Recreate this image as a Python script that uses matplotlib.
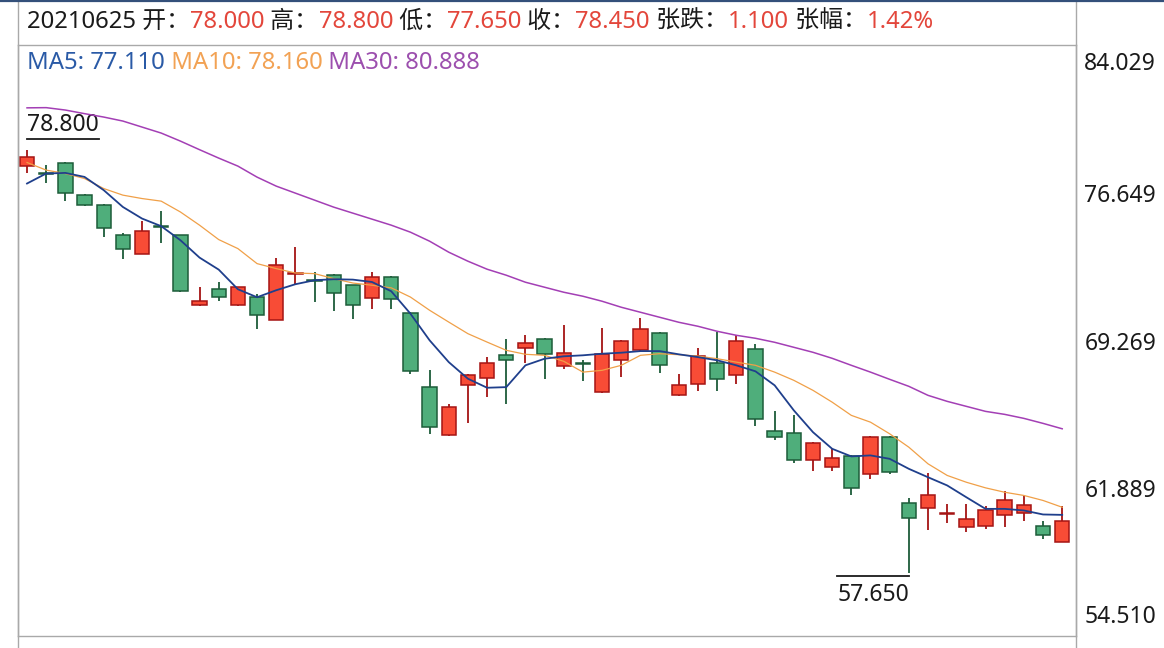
import matplotlib
matplotlib.use('Agg')
import matplotlib.pyplot as plt
from matplotlib.patches import Rectangle
from matplotlib.lines import Line2D
from matplotlib.transforms import ScaledTranslation

plt.rcParams['font.family'] = ['Noto Sans', 'Noto Sans CJK SC']

# ---------------- data ----------------
opens = [78.00, 77.62, 78.14, 76.56, 76.06, 74.53, 73.61, 75.00, 74.53, 71.02,
         71.83, 71.02, 71.44, 70.31, 72.60, 72.30, 72.56, 72.03, 71.41, 72.44,
         70.64, 66.94, 64.53, 67.03, 67.41, 68.56, 68.89, 69.36, 67.99, 68.13,
         66.69, 68.31, 68.78, 69.64, 66.53, 67.11, 68.14, 67.53, 68.86, 64.74,
         64.64, 63.31, 62.94, 63.48, 62.61, 64.44, 61.14, 60.91, 60.59, 59.94,
         59.98, 60.53, 60.66, 59.98, 59.23]
highs = [78.80, 78.03, 78.18, 76.60, 76.10, 74.64, 75.24, 75.73, 74.56, 71.94,
         72.19, 71.96, 71.61, 73.41, 73.94, 72.69, 72.60, 72.05, 72.69, 72.50,
         70.70, 67.81, 66.11, 67.60, 68.44, 69.36, 69.53, 69.40, 70.03, 68.31,
         69.91, 69.28, 70.41, 69.70, 67.61, 68.91, 69.69, 69.53, 69.11, 65.73,
         65.53, 64.20, 63.83, 63.55, 64.50, 64.50, 61.41, 62.64, 61.08, 61.08,
         60.98, 61.74, 61.48, 60.23, 60.98]
lows = [77.65, 77.14, 76.24, 76.00, 74.44, 73.36, 73.58, 74.16, 71.70, 71.00,
        71.24, 71.00, 69.86, 70.29, 72.11, 71.19, 70.74, 70.36, 70.86, 70.86,
        67.58, 64.58, 64.50, 65.14, 66.44, 66.08, 68.14, 67.36, 67.86, 67.24,
        66.67, 67.44, 68.76, 67.64, 66.51, 66.74, 66.74, 67.08, 64.98, 64.28,
        63.14, 62.74, 62.74, 61.56, 62.36, 62.58, 57.65, 59.78, 60.16, 59.69,
        59.86, 59.94, 60.24, 59.36, 59.21]
closes = [78.45, 77.60, 76.64, 76.03, 74.91, 73.83, 74.74, 74.96, 71.73, 71.24,
          71.44, 71.94, 70.52, 73.06, 72.64, 72.25, 71.64, 71.03, 72.44, 71.33,
          67.73, 64.94, 65.94, 67.53, 68.16, 68.31, 69.16, 68.61, 68.64, 68.09,
          68.61, 69.24, 69.83, 68.03, 67.03, 68.48, 67.33, 69.24, 65.33, 64.44,
          63.31, 64.14, 63.41, 61.91, 64.44, 62.72, 60.41, 61.53, 60.63, 60.36,
          60.78, 61.28, 61.06, 59.53, 60.23]
ma5 = [77.11, 77.61, 77.64, 77.44, 76.78, 75.94, 75.36, 74.98, 74.28, 73.41,
       72.81, 71.83, 71.43, 71.78, 72.08, 72.28, 72.33, 72.31, 72.19, 71.73,
       70.61, 69.28, 68.19, 67.36, 66.91, 66.94, 68.03, 68.36, 68.48, 68.53,
       68.61, 68.66, 68.74, 68.74, 68.58, 68.44, 68.28, 68.03, 67.73, 67.03,
       65.78, 64.69, 63.86, 63.48, 63.53, 63.36, 62.86, 62.44, 62.03, 61.44,
       60.86, 60.86, 60.78, 60.58, 60.56]
ma10 = [78.16, 77.78, 77.61, 77.36, 76.86, 76.53, 76.36, 76.23, 75.69, 75.03,
        74.31, 73.86, 73.11, 72.86, 72.64, 72.61, 72.36, 72.14, 72.03, 71.90,
        71.44, 70.78, 70.19, 69.61, 69.19, 68.78, 68.58, 68.53, 68.23, 67.69,
        67.78, 68.03, 68.53, 68.61, 68.56, 68.49, 68.36, 68.19, 68.03, 67.69,
        67.28, 66.78, 66.19, 65.53, 65.19, 64.61, 63.94, 63.11, 62.53, 62.19,
        61.91, 61.69, 61.53, 61.28, 60.94]
ma30 = [80.89, 80.90, 80.78, 80.60, 80.43, 80.23, 79.93, 79.63, 79.23, 78.80,
        78.38, 77.98, 77.43, 76.98, 76.63, 76.28, 75.93, 75.63, 75.33, 75.03,
        74.68, 74.23, 73.68, 73.23, 72.83, 72.53, 72.18, 71.93, 71.68, 71.48,
        71.23, 70.93, 70.68, 70.43, 70.18, 69.98, 69.73, 69.53, 69.38, 69.18,
        68.93, 68.68, 68.38, 68.03, 67.69, 67.33, 66.98, 66.53, 66.23, 65.98,
        65.73, 65.58, 65.38, 65.13, 64.86]
ytick_vals = [54.510, 61.889, 69.269, 76.649, 84.029]
ytick_labels = ['54.510', '61.889', '69.269', '76.649', '84.029']
header_items = [('20210625 开：', 'k'), ('78.000', 'r'), (' 高：', 'k'), ('78.800', 'r'),
                (' 低：', 'k'), ('77.650', 'r'), (' 收：', 'k'), ('78.450', 'r'),
                (' 张跌：', 'k'), ('1.100', 'r'), (' 张幅：', 'k'), ('1.42%', 'r')]
ma_items = [('MA5: 77.110', 'ma5'), (' MA10: 78.160', 'ma10'), (' MA30: 80.888', 'ma30')]

# ---------------- style ----------------
W, H = 1164, 648
C_UP_FILL, C_UP_EDGE = '#f84c36', '#a51414'
C_DN_FILL, C_DN_EDGE = '#4fae7b', '#1d5c39'
COL = {'k': '#1a1a1a', 'r': '#e3463b', 'ma5': '#2a5aa6', 'ma10': '#f2a254', 'ma30': '#9c4fae'}
LINE_MA5, LINE_MA10, LINE_MA30 = '#1f3f8c', '#f0a048', '#a33fb5'
GRID_C = '#a9a9a9'
FS = 16.5
FS_HEAD = 17.2

fig = plt.figure(figsize=(W / 100, H / 100), dpi=100, facecolor='white')
ax = fig.add_axes([18 / W, 12 / H, (1076 - 18) / W, (636 - 45) / H])
ax.set_facecolor('white')

n = len(opens)
bw = 0.75
for i in range(n):
    o, h, l, c = opens[i], highs[i], lows[i], closes[i]
    up = c >= o
    fill = C_UP_FILL if up else C_DN_FILL
    edge = C_UP_EDGE if up else C_DN_EDGE
    ax.add_line(Line2D([i, i], [l, h], color=edge, lw=1.3, zorder=2, solid_capstyle='butt'))
    bottom = min(o, c)
    height = max(abs(c - o), 0.02)
    ax.add_patch(Rectangle((i - bw / 2, bottom), bw, height, facecolor=fill,
                           edgecolor=edge, lw=1.1, zorder=3))

xs = list(range(n))
ax.plot(xs, ma30, color=LINE_MA30, lw=1.1, zorder=4)
ax.plot(xs, ma10, color=LINE_MA10, lw=0.9, zorder=4)
ax.plot(xs, ma5, color=LINE_MA5, lw=1.3, zorder=5)

ax.set_xlim(-0.47, 54.72)
ax.set_ylim(ytick_vals[0], ytick_vals[-1])
ax.set_xticks([])
ax.yaxis.tick_right()
ax.set_yticks(ytick_vals)
ax.set_yticklabels(ytick_labels)
ax.tick_params(axis='y', length=0, pad=6, labelsize=FS, labelcolor='#1a1a1a')
for sp in ax.spines.values():
    sp.set_color(GRID_C)
    sp.set_linewidth(1.0)

mticks = ax.yaxis.get_major_ticks()
mticks[0].label2.set_va('bottom')
mticks[0].label2.set_transform(mticks[0].label2.get_transform() +
                               ScaledTranslation(0, 0.07, fig.dpi_scale_trans))
mticks[-1].label2.set_va('top')
mticks[-1].label2.set_transform(mticks[-1].label2.get_transform() +
                                ScaledTranslation(0, -0.07, fig.dpi_scale_trans))

# frame lines outside the axes
fig.add_artist(Line2D([18 / W, 18 / W], [0, 1], color=GRID_C, lw=1.0))
fig.add_artist(Line2D([1076 / W, 1076 / W], [0, 1], color=GRID_C, lw=1.0))
fig.add_artist(Line2D([0, 1], [1 - 1 / H, 1 - 1 / H], color='#34507a', lw=1.6))

renderer = fig.canvas.get_renderer()


def put_row(items, x0, ybase, size):
    x = x0
    for s, c in items:
        t = fig.text(x / W, 1 - ybase / H, s, color=COL[c], fontsize=size,
                     ha='left', va='baseline')
        bb = t.get_window_extent(renderer=renderer)
        x = bb.x1


put_row(header_items, 27, 28, FS_HEAD)
put_row(ma_items, 27, 69, FS_HEAD)

# max / min annotations
imax = max(range(n), key=lambda k: highs[k])
imin = min(range(n), key=lambda k: lows[k])
px_per_unit_x = 1058 / (54.72 + 0.47)
off_up = ScaledTranslation(0, 0.105, fig.dpi_scale_trans)
t1 = ax.text(imax, highs[imax], f'{highs[imax]:.3f}', fontsize=FS, color='#1a1a1a',
             ha='left', va='bottom',
             transform=ax.transData + ScaledTranslation(0, 0.13, fig.dpi_scale_trans))
bb1 = t1.get_window_extent(renderer=renderer)
wdat1 = (bb1.x1 - bb1.x0) / px_per_unit_x
ax.add_line(Line2D([imax, imax + wdat1], [highs[imax]] * 2, color='#1a1a1a', lw=1.3,
                   transform=ax.transData + off_up, zorder=6))

off_dn = ScaledTranslation(0, -0.03, fig.dpi_scale_trans)
t2 = ax.text(imin, lows[imin], f'{lows[imin]:.3f}', fontsize=FS, color='#1a1a1a',
             ha='right', va='top',
             transform=ax.transData + ScaledTranslation(0, -0.095, fig.dpi_scale_trans))
bb2 = t2.get_window_extent(renderer=renderer)
wdat2 = (bb2.x1 - bb2.x0) / px_per_unit_x
ax.add_line(Line2D([imin - wdat2, imin], [lows[imin]] * 2, color='#1a1a1a', lw=1.3,
                   transform=ax.transData + off_dn, zorder=6))

fig.savefig('out.png', dpi=100, facecolor='white')
